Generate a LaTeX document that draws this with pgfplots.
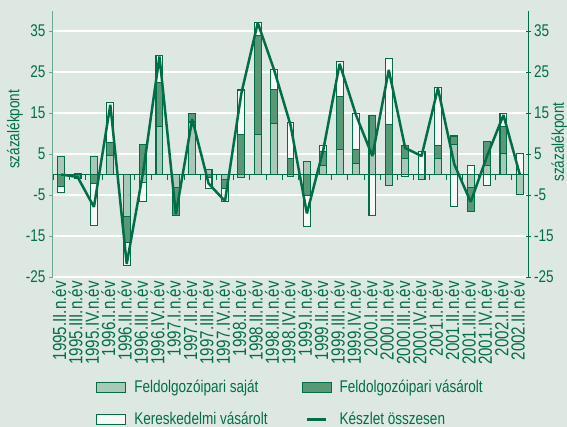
\documentclass[border=0pt]{standalone}
\usepackage{fontspec}
\setmainfont{Liberation Sans}[FakeStretch=0.8]
\usepackage{pgfplots}
\usepackage{pgfplotstable}
\pgfplotsset{compat=1.18}
\definecolor{bgc}{RGB}{222,232,226}
\definecolor{dkg}{RGB}{0,110,70}
\definecolor{lfill}{RGB}{168,200,184}
\definecolor{dfill}{RGB}{88,152,118}
\definecolor{wfill}{RGB}{246,249,247}
\definecolor{spine}{RGB}{110,170,140}

% boundaries of the stacked segments: Pl/Nl light (saját), Pd/Nd dark (vásárolt), Pw/Nw white (kereskedelmi); T = total line
\pgfplotstableread{
x Pw Pd Pl Nw Nd Nl T
0 4.3 4.3 4.3 -4.4 -3.0 0 0
1 0.3 0.3 0.3 -1.0 -1.0 0 -0.6
2 4.3 4.3 4.3 -12.5 -2.3 0 -7.9
3 17.6 7.8 4.6 0 0 0 17
4 0 0 0 -22.1 -16.6 -10.3 -21.8
5 7.4 7.4 0 -6.5 -2.0 -2.0 0.5
6 29 22.4 11.6 0 0 0 28.8
7 0 0 0 -9.9 -9.9 -3.2 -9.7
8 14.9 14.9 12.8 0 0 0 13.5
9 1.3 1.3 1.3 -3.5 -0.8 0 -2.2
10 0 0 0 -6.6 -3.4 -1.2 -6.5
11 20.6 9.8 0 -0.8 -0.8 -0.8 19.8
12 37 33.8 9.8 0 0 0 37
13 25.7 20.8 12.5 0 0 0 25.5
14 12.7 3.8 0 -0.4 -0.4 -0.4 12.1
15 3.1 3.1 3.1 -12.6 -5.2 0 -9.5
16 7 5.6 2.3 0 0 0 6
17 27.5 19 6 0 0 0 27
18 14.9 6.1 2.6 0 0 0 14.5
19 14.3 14.3 5.2 -10 0 0 4.5
20 28.2 12.1 0 -2.7 -2.7 -2.7 25.5
21 7 7 3.8 -0.5 0 0 6.5
22 5.6 0 0 -1.3 -1.3 -1.3 4.5
23 21.2 7 3.8 0 0 0 21
24 9.4 9.4 7.4 -7.7 0 0 2.5
25 2.3 0 0 -9.1 -9.1 -3.1 -6.7
26 8 8 2.3 -2.7 0 0 4.5
27 14.9 11.7 5.2 0 0 0 14.5
28 5.2 0 0 -4.8 -4.8 -4.8 0
}\data

\pgfplotsset{
  barst/.style={ybar, bar width=0.42, bar shift=0pt, draw=dkg, line width=1.1bp, forget plot},
  common/.style={
    at={(0,0)}, anchor=south west,
    scale only axis, width=475bp, height=266.5bp,
    xmin=-0.5, xmax=28.5, ymin=-25, ymax=40,
    ytick={-25,-15,-5,5,15,25,35},
    yticklabels={-25,-15,-5,5,15,25,35},
    ticklabel style={font=\fontsize{17}{19}\selectfont, text=dkg},
  }
}

\begin{document}
\begin{tikzpicture}
\fill[bgc] (-53bp,-150bp) rectangle (514bp,277bp);
\begin{axis}[
  common,
  axis x line*=bottom, axis y line*=left,
  x axis line style={draw=none},
  y axis line style={draw=spine, line width=1bp},
  ymajorgrids, grid style={white, line width=1.5bp},
  xtick={0,...,28},
  xticklabels={1995.II.n.év,1995.III.n.év,1995.IV.n.év,1996.I.n.év,1996.II.n.év,1996.III.n.év,1996.IV.n.év,1997.I.n.év,1997.II.n.év,1997.III.n.év,1997.IV.n.év,1998.I.n.év,1998.II.n.év,1998.III.n.év,1998.IV.n.év,1999.I.n.év,1999.II.n.év,1999.III.n.év,1999.IV.n.év,2000.I.n.év,2000.II.n.év,2000.III.n.év,2000.IV.n.év,2001.I.n.év,2001.II.n.év,2001.III.n.év,2001.IV.n.év,2002.I.n.év,2002.II.n.év},
  x tick style={draw=none},
  y tick style={draw=spine, line width=1bp},
  major tick length=4bp,
  tick align=outside,
  xticklabel style={font=\fontsize{19}{21}\selectfont, xshift=-2bp, rotate=90, anchor=east, inner sep=0pt},
  ylabel={százalékpont},
  every axis y label/.style={at={(axis description cs:-0.08,0.554)}, rotate=90, anchor=center, font=\fontsize{17}{19}\selectfont, text=dkg},
]
\addplot[barst, fill=wfill] table[x=x,y=Pw]{\data};
\addplot[barst, fill=dfill] table[x=x,y=Pd]{\data};
\addplot[barst, fill=lfill] table[x=x,y=Pl]{\data};
\addplot[barst, fill=wfill] table[x=x,y=Nw]{\data};
\addplot[barst, fill=dfill] table[x=x,y=Nd]{\data};
\addplot[barst, fill=lfill] table[x=x,y=Nl]{\data};
\end{axis}
\begin{axis}[
  common,
  axis x line=middle, axis y line*=right,
  axis line style={-},
  x axis line style={draw=dkg, line width=1.2bp},
  y axis line style={draw=dkg, line width=1bp},
  xtick={-0.5,0.5,...,28.5}, xticklabels={},
  x tick style={draw=dkg, line width=0.8bp, yshift=-2.5bp},
  y tick style={draw=dkg, line width=1bp},
  major tick length=5bp,
  tick align=center,
  yticklabel pos=right,
  ylabel={százalékpont},
  every axis y label/.style={at={(axis description cs:1.066,0.506)}, rotate=90, anchor=center, font=\fontsize{17}{19}\selectfont, text=dkg},
  legend columns=2,
  legend cell align=left,
  legend style={draw=none, fill=none, at={(axis description cs:0.0905,-0.38)}, anchor=north west, inner sep=0pt, font=\fontsize{17}{19}\selectfont, text=dkg, row sep=14bp, /tikz/every odd column/.append style={column sep=6bp}, /tikz/every even column/.append style={column sep=32bp}},
]
\addplot[dkg, line width=2.5bp, mark=none, line join=miter, miter limit=1.3, forget plot] table[x=x,y=T]{\data};
\addlegendimage{legend image code/.code={\draw[fill=lfill,draw=dkg,line width=1.1bp] (0bp,-5bp) rectangle (29bp,5bp);}}
\addlegendentry{Feldolgozóipari saját}
\addlegendimage{legend image code/.code={\draw[fill=dfill,draw=dkg,line width=1.1bp] (0bp,-5bp) rectangle (29bp,5bp);}}
\addlegendentry{Feldolgozóipari vásárolt}
\addlegendimage{legend image code/.code={\draw[fill=wfill,draw=dkg,line width=1.1bp] (0bp,-5bp) rectangle (29bp,5bp);}}
\addlegendentry{Kereskedelmi vásárolt}
\addlegendimage{legend image code/.code={\draw[dkg,line width=2.5bp] (5bp,0bp) -- (24bp,0bp);}}
\addlegendentry{Készlet összesen}
\end{axis}
\pgfresetboundingbox
\path (-53bp,-150bp) rectangle (514bp,277bp);
\end{tikzpicture}
\end{document}
